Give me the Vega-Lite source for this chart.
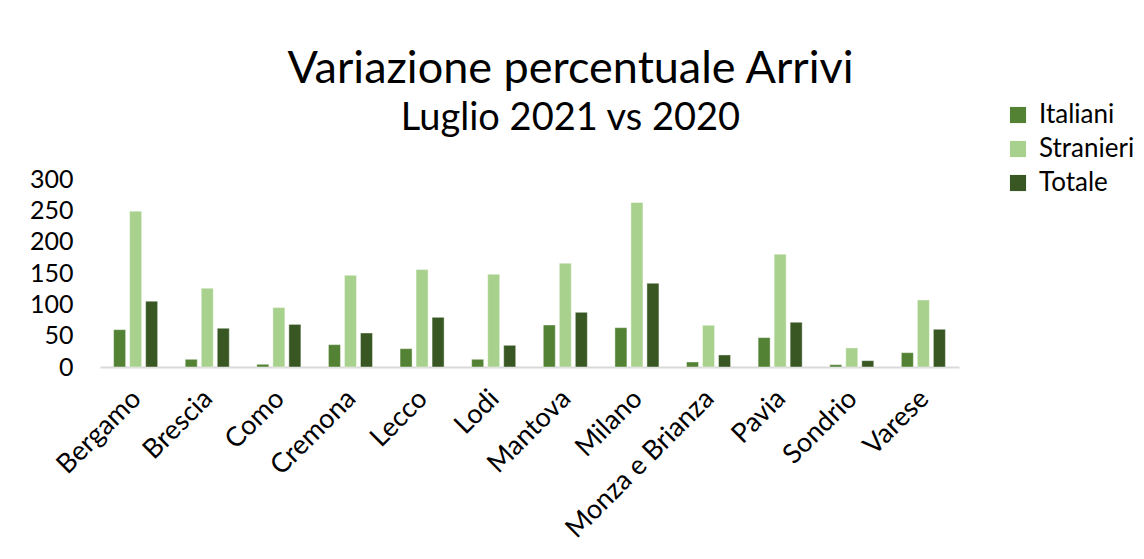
{
  "$schema": "https://vega.github.io/schema/vega-lite/v6.json",
  "width": 859,
  "height": 188,
  "autosize": {"type": "none"},
  "padding": {"left": 100, "top": 179, "right": 185, "bottom": 192},
  "background": "white",
  "title": {
    "text": "Variazione percentuale Arrivi",
    "subtitle": "Luglio 2021 vs 2020",
    "anchor": "middle",
    "frame": "group",
    "dx": 41,
    "offset": -36,
    "font": "Lato",
    "fontSize": 45,
    "fontWeight": "normal",
    "color": "#000000",
    "subtitleFont": "Lato",
    "subtitleFontSize": 38,
    "subtitleColor": "#000000",
    "subtitlePadding": 8
  },
  "data": {
    "values": [
      {"provincia": "Bergamo", "serie": "Italiani", "valore": 59.6},
      {"provincia": "Bergamo", "serie": "Stranieri", "valore": 248.7},
      {"provincia": "Bergamo", "serie": "Totale", "valore": 105},
      {"provincia": "Brescia", "serie": "Italiani", "valore": 12.3},
      {"provincia": "Brescia", "serie": "Stranieri", "valore": 125.7},
      {"provincia": "Brescia", "serie": "Totale", "valore": 61.8},
      {"provincia": "Como", "serie": "Italiani", "valore": 4.3},
      {"provincia": "Como", "serie": "Stranieri", "valore": 94.8},
      {"provincia": "Como", "serie": "Totale", "valore": 68},
      {"provincia": "Cremona", "serie": "Italiani", "valore": 35.7},
      {"provincia": "Cremona", "serie": "Stranieri", "valore": 146.4},
      {"provincia": "Cremona", "serie": "Totale", "valore": 54.3},
      {"provincia": "Lecco", "serie": "Italiani", "valore": 29.3},
      {"provincia": "Lecco", "serie": "Stranieri", "valore": 155.5},
      {"provincia": "Lecco", "serie": "Totale", "valore": 79.3},
      {"provincia": "Lodi", "serie": "Italiani", "valore": 12.3},
      {"provincia": "Lodi", "serie": "Stranieri", "valore": 148},
      {"provincia": "Lodi", "serie": "Totale", "valore": 34.6},
      {"provincia": "Mantova", "serie": "Italiani", "valore": 67},
      {"provincia": "Mantova", "serie": "Stranieri", "valore": 165.6},
      {"provincia": "Mantova", "serie": "Totale", "valore": 87.3},
      {"provincia": "Milano", "serie": "Italiani", "valore": 62.8},
      {"provincia": "Milano", "serie": "Stranieri", "valore": 262.5},
      {"provincia": "Milano", "serie": "Totale", "valore": 133.7},
      {"provincia": "Monza e Brianza", "serie": "Italiani", "valore": 8},
      {"provincia": "Monza e Brianza", "serie": "Stranieri", "valore": 66.6},
      {"provincia": "Monza e Brianza", "serie": "Totale", "valore": 19.2},
      {"provincia": "Pavia", "serie": "Italiani", "valore": 46.9},
      {"provincia": "Pavia", "serie": "Stranieri", "valore": 180},
      {"provincia": "Pavia", "serie": "Totale", "valore": 71.4},
      {"provincia": "Sondrio", "serie": "Italiani", "valore": 3.7},
      {"provincia": "Sondrio", "serie": "Stranieri", "valore": 30.4},
      {"provincia": "Sondrio", "serie": "Totale", "valore": 10.1},
      {"provincia": "Varese", "serie": "Italiani", "valore": 22.9},
      {"provincia": "Varese", "serie": "Stranieri", "valore": 107},
      {"provincia": "Varese", "serie": "Totale", "valore": 60.2}
    ]
  },
  "mark": {"type": "bar", "stroke": "#ffffff", "strokeWidth": 0.7, "strokeOpacity": 0.6},
  "encoding": {
    "x": {
      "field": "provincia",
      "type": "nominal",
      "sort": null,
      "scale": {"paddingInner": 0.385, "paddingOuter": 0.19},
      "axis": {
        "title": null,
        "labelAngle": -45,
        "labelAlign": "right",
        "labelBaseline": "top",
        "labelFont": "Lato",
        "labelFontSize": 27,
        "labelColor": "#000000",
        "labelPadding": 18,
        "labelOffset": -8,
        "ticks": false,
        "domainColor": "#d9d9d9",
        "domainWidth": 2,
        "labelOverlap": false,
        "labelLimit": 300
      }
    },
    "xOffset": {
      "field": "serie",
      "type": "nominal",
      "scale": {"paddingInner": 0.25}
    },
    "y": {
      "field": "valore",
      "type": "quantitative",
      "scale": {"domain": [0, 300], "nice": false},
      "axis": {
        "title": null,
        "values": [0, 50, 100, 150, 200, 250, 300],
        "grid": false,
        "domain": false,
        "ticks": false,
        "labelFont": "Lato",
        "labelFontSize": 25,
        "labelColor": "#000000",
        "labelPadding": 27
      }
    },
    "color": {
      "field": "serie",
      "type": "nominal",
      "scale": {
        "domain": ["Italiani", "Stranieri", "Totale"],
        "range": ["#548235", "#a9d18e", "#385723"]
      },
      "legend": {
        "title": null,
        "orient": "none",
        "legendX": 905,
        "legendY": -77,
        "symbolType": "square",
        "symbolSize": 260,
        "symbolStrokeWidth": 0,
        "labelFont": "Lato",
        "labelFontSize": 26,
        "labelColor": "#000000",
        "rowPadding": 8,
        "labelOffset": 8
      }
    }
  },
  "config": {"view": {"stroke": null}}
}
